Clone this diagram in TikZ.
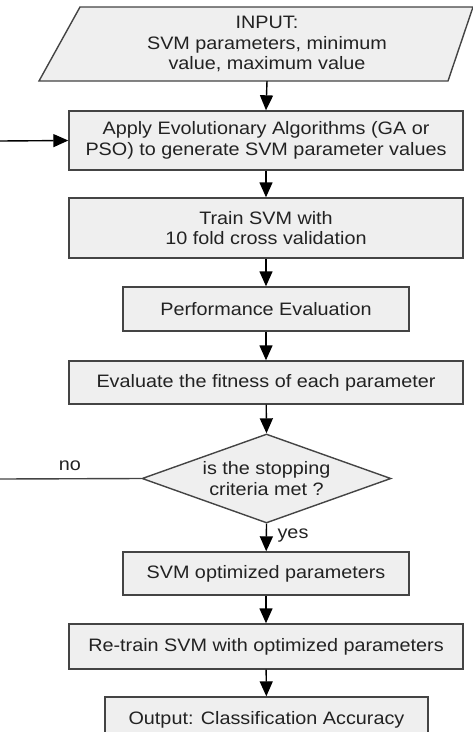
\documentclass[tikz,border=0pt]{standalone}
\usepackage{fontspec}
\setmainfont{Liberation Sans}[FakeStretch=1.1]
\usetikzlibrary{shapes.geometric,arrows.meta}
\definecolor{boxfill}{HTML}{EFEFEF}
\definecolor{boxline}{HTML}{444444}
\definecolor{txt}{HTML}{222222}
\begin{document}
\begin{tikzpicture}[x=1pt,y=-1pt,
  every node/.style={font=\fontsize{18}{20.5}\selectfont, text=txt, align=center},
  box/.style={draw=boxline, fill=boxfill, line width=1.4pt, inner sep=0pt},
  conn/.style={draw=black, line width=1.4pt, -{Triangle[length=15pt,width=13pt]}},
  plain/.style={draw=boxline, line width=1.4pt}]
\useasboundingbox (0,0) rectangle (473,732);
\clip (0,0) rectangle (473,732);
% input parallelogram
\draw[box] (80,7) -- (473,7) -- (448,81) -- (39,81) -- cycle;
\node[inner sep=0pt, minimum height=74pt, minimum width=10pt] (input) at (267,44) {INPUT:\\SVM parameters, minimum\\value, maximum value};
\node[box, minimum width=394pt, minimum height=59pt] (apply) at (266,140.5) {Apply Evolutionary Algorithms (GA or\\PSO) to generate SVM parameter values};
\node[box, minimum width=394pt, minimum height=60pt] (train) at (266,228) {Train SVM with\\10 fold cross validation};
\node[box, minimum width=286pt, minimum height=44pt] (perf) at (266,309) {Performance Evaluation};
\node[box, minimum width=394pt, minimum height=43pt] (fit) at (266,382.5) {Evaluate the fitness of each parameter};
\node[box, shape=diamond, aspect=2.8, minimum width=249pt, minimum height=89pt] (stop) at (266.5,478.5) {is the stopping\\criteria met ?};
\node[box, minimum width=286pt, minimum height=43pt] (opt) at (266,573.5) {SVM optimized parameters};
\node[box, minimum width=394pt, minimum height=45pt] (retrain) at (266,646.5) {Re-train SVM with optimized parameters};
\node[box, minimum width=323pt, minimum height=45pt] (out) at (266.5,719.5) {Output: Classification Accuracy};
\coordinate (loopin) at (0,141);
\coordinate (loopout) at (0,479);
\draw[conn] (input.south) -- (apply.north);
\draw[conn] (apply) -- (train);
\draw[conn] (train) -- (perf);
\draw[conn] (perf) -- (fit);
\draw[conn] (fit) -- (stop.north);
\draw[conn] (stop.south) -- (opt);
\node (yes) at (293,536) {yes};
\draw[conn] (opt) -- (retrain);
\draw[conn] (retrain) -- (out);
\draw[conn] (loopin) -- (apply.west);
\draw[plain] (stop.west) -- (loopout);
\node (no) at (70,466) {no};
\end{tikzpicture}
\end{document}
